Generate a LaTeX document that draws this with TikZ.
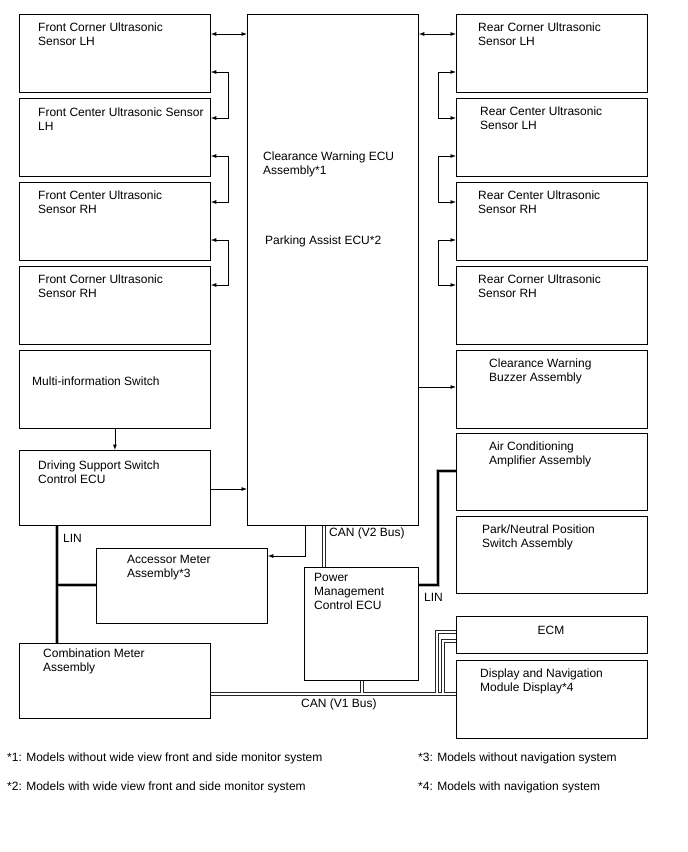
\documentclass[tikz,border=0pt]{standalone}
\usepackage{fontspec}
\setmainfont{Liberation Sans}
\usepackage{tikz}
\usetikzlibrary{arrows.meta,calc}

\begin{document}
\begin{tikzpicture}[x=1pt,y=-1pt,>={Latex[length=5.5pt,width=4pt]},
    font=\fontsize{12}{14}\selectfont,
    box/.style={draw,line width=0.8pt,anchor=north west,inner sep=0pt},
    txt/.style={anchor=north west,align=left,inner sep=0pt},
    arr/.style={->,line width=0.8pt},
    arrtwo/.style={<->,line width=0.8pt},
    canbus/.style={draw=black!85,line width=0.9pt,double=white,double distance=1.8pt},
    linbus/.style={draw=black!30,line width=1.1pt,double=black,double distance=1.5pt}]
    \useasboundingbox (0,0) rectangle (688,852);
    % Front sensors and switches (left column)
    \node[box,minimum width=191pt,minimum height=78pt] (fcl) at (19,14) {};
    \node[box,minimum width=191pt,minimum height=78pt] (fcnl) at (19,98) {};
    \node[box,minimum width=191pt,minimum height=78pt] (fcnr) at (19,182) {};
    \node[box,minimum width=191pt,minimum height=78pt] (fcrr) at (19,266) {};
    \node[box,minimum width=191pt,minimum height=78pt] (mis) at (19,350) {};
    \node[box,minimum width=191pt,minimum height=75pt] (dss) at (19,450) {};
    \node[box,minimum width=191pt,minimum height=75pt] (cmb) at (19,643) {};
    \node[box,minimum width=171pt,minimum height=75pt] (acc) at (96,548) {};
    % ECUs in the middle
    \node[box,minimum width=171pt,minimum height=511pt] (ecu) at (247,14) {};
    \node[box,minimum width=114pt,minimum height=113pt] (pwr) at (304,567) {};
    % Rear sensors and receivers (right column)
    \node[box,minimum width=191pt,minimum height=78pt] (rcl) at (456,14) {};
    \node[box,minimum width=191pt,minimum height=78pt] (rcnl) at (456,98) {};
    \node[box,minimum width=191pt,minimum height=78pt] (rcnr) at (456,182) {};
    \node[box,minimum width=191pt,minimum height=78pt] (rcrr) at (456,266) {};
    \node[box,minimum width=191pt,minimum height=78pt] (buz) at (456,350) {};
    \node[box,minimum width=191pt,minimum height=77pt] (aca) at (456,433) {};
    \node[box,minimum width=191pt,minimum height=77pt] (pnp) at (456,516) {};
    \node[box,minimum width=191pt,minimum height=37pt] (ecm) at (456,616) {};
    \node[box,minimum width=191pt,minimum height=78pt] (dsp) at (456,660) {};
    % Box texts
    \node[txt] (fcl-t) at (38,23) {Front Corner Ultrasonic\\Sensor LH};
    \node[txt] (fcnl-t) at (38,108) {Front Center Ultrasonic Sensor\\LH};
    \node[txt] (fcnr-t) at (38,191) {Front Center Ultrasonic\\Sensor RH};
    \node[txt] (fcrr-t) at (38,275) {Front Corner Ultrasonic\\Sensor RH};
    \node[txt] (mis-t) at (32,377) {Multi-information Switch};
    \node[txt] (dss-t) at (38,461) {Driving Support Switch\\Control ECU};
    \node[txt] (cmb-t) at (43,649) {Combination Meter\\Assembly};
    \node[txt] (acc-t) at (127,555) {Accessor Meter\\Assembly*3};
    \node[txt] (ecu-t) at (263,152) {Clearance Warning ECU\\Assembly*1};
    \node[txt] (ecu-p) at (265,236) {Parking Assist ECU*2};
    \node[txt] (pwr-t) at (314,573) {Power\\Management\\Control ECU};
    \node[txt] (rcl-t) at (478,23) {Rear Corner Ultrasonic\\Sensor LH};
    \node[txt] (rcnl-t) at (480,107) {Rear Center Ultrasonic\\Sensor LH};
    \node[txt] (rcnr-t) at (478,191) {Rear Center Ultrasonic\\Sensor RH};
    \node[txt] (rcrr-t) at (478,275) {Rear Corner Ultrasonic\\Sensor RH};
    \node[txt] (buz-t) at (489,359) {Clearance Warning\\Buzzer Assembly};
    \node[txt] (aca-t) at (489,442) {Air Conditioning\\Amplifier Assembly};
    \node[txt] (pnp-t) at (482,525) {Park/Neutral Position\\Switch Assembly};
    \node (ecm-t) at (551,630) {ECM};
    \node[txt] (dsp-t) at (480,669) {Display and Navigation\\Module Display*4};
    % Sensor lines
    \draw[arrtwo] (fcl.east |- 0,34) -- (ecu.west |- 0,34);
    \draw[arrtwo] (fcl.east |- 0,72) -- (228,72) |- (fcnl.east |- 0,118);
    \draw[arrtwo] (fcnl.east |- 0,156) -- (228,156) |- (fcnr.east |- 0,202);
    \draw[arrtwo] (fcnr.east |- 0,240) -- (228,240) |- (fcrr.east |- 0,285);
    \draw[arrtwo] (ecu.east |- 0,34) -- (rcl.west |- 0,34);
    \draw[arrtwo] (rcl.west |- 0,72) -- (438,72) |- (rcnl.west |- 0,118);
    \draw[arrtwo] (rcnl.west |- 0,156) -- (438,156) |- (rcnr.west |- 0,202);
    \draw[arrtwo] (rcnr.west |- 0,240) -- (438,240) |- (rcrr.west |- 0,285);
    % Signal lines
    \draw[arr] (mis.south) -- (dss.north);
    \draw[arr] (dss.east |- 0,489) -- (ecu.west |- 0,489);
    \draw[arr] (ecu.east |- 0,387) -- (buz.west |- 0,387);
    \draw[arr] (ecu.south -| 305,0) |- (acc.east |- 0,556);
    % LIN lines
    \draw[linbus] (dss.south -| 57,0) -- (cmb.north -| 57,0) (57,585) -- (acc.west |- 0,585);
    \node[anchor=west,inner sep=0pt] (lin-l) at (63,538) {LIN};
    \draw[linbus,double distance=2.2pt] (pwr.east |- 0,585) -| (438,471) -- (aca.west |- 0,471);
    \node[anchor=west,inner sep=0pt] (lin-r) at (424,597) {LIN};
    % CAN lines
    \draw[canbus] (ecu.south -| 324,0) -- (pwr.north -| 324,0);
    \node[anchor=west,inner sep=0pt] (can-v2) at (329,533) {CAN (V2 Bus)};
    \draw[canbus] (cmb.east |- 0,694) -- (dsp.west |- 0,694)
        (pwr.south -| 362,0) -- (362,694)
        (437,694) |- (ecm.west |- 0,632)
        (443,694) |- (ecm.west |- 0,641);
    \node[anchor=west,inner sep=0pt] (can-v1) at (301,704) {CAN (V1 Bus)};
    % Notes
    \node[anchor=west,inner sep=0pt] (note1) at (7,758) {*1: Models without wide view front and side monitor system};
    \node[anchor=west,inner sep=0pt] (note2) at (7,787) {*2: Models with wide view front and side monitor system};
    \node[anchor=west,inner sep=0pt] (note3) at (418,758) {*3: Models without navigation system};
    \node[anchor=west,inner sep=0pt] (note4) at (418,787) {*4: Models with navigation system};
\end{tikzpicture}
\end{document}
